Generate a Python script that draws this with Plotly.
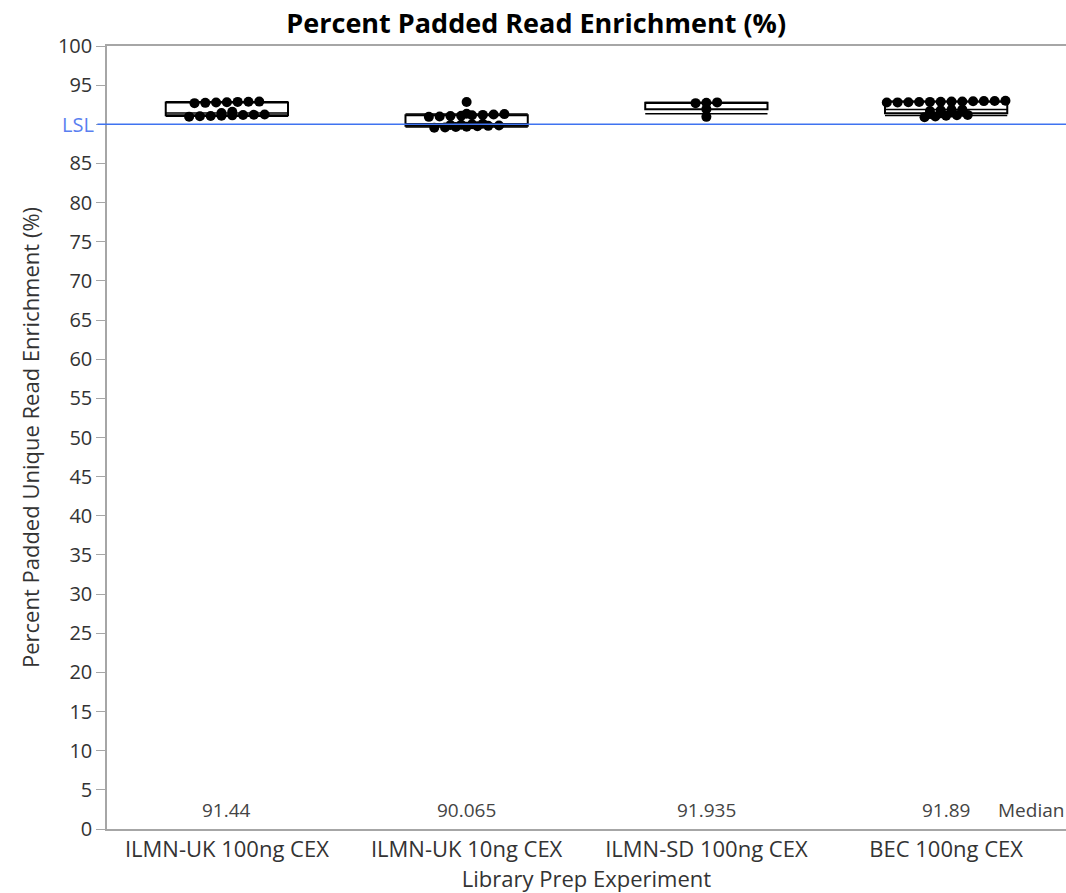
import numpy as np
import plotly.graph_objects as go

categories = ["ILMN-UK 100ng CEX", "ILMN-UK 10ng CEX", "ILMN-SD 100ng CEX", "BEC 100ng CEX"]

g1 = [90.98, 91.02, 91.06, 91.10, 91.14, 91.18, 91.22, 91.26, 91.44, 91.60,
      92.70, 92.74, 92.78, 92.82, 92.86, 92.88, 92.90]
g2 = [89.55, 89.60, 89.65, 89.70, 89.75, 89.80, 89.85, 89.90, 89.95, 90.00, 90.065,
      90.95, 91.00, 91.05, 91.10, 91.15, 91.20, 91.25, 91.30, 91.35, 92.85]
g3 = [90.95, 91.935, 92.70, 92.75, 92.80]
g4 = [90.90, 91.00, 91.10, 91.15, 91.20, 91.30, 91.40, 91.50, 91.60, 91.70, 91.80, 91.85,
      91.89,
      92.78, 92.80, 92.82, 92.84, 92.86, 92.88, 92.90, 92.92, 92.94, 92.96, 92.98, 93.00]
groups = [g1, g2, g3, g4]
median_labels = ["91.44", "90.065", "91.935", "91.89"]
LSL = 90.0

y_ticks = list(range(0, 101, 5))
y_ticktext = ["" if v == 90 else str(v) for v in y_ticks]

FONT = "Open Sans"


def pack(vals, center, tol=0.35, step=0.045):
    vals = np.asarray(vals)
    order = np.argsort(vals, kind="stable")
    rows = []
    for idx in order:
        if rows and vals[idx] - vals[rows[-1][0]] < tol:
            rows[-1].append(idx)
        else:
            rows.append([idx])
    xs = np.empty(len(vals))
    for r in rows:
        m = len(r)
        for k, idx in enumerate(r):
            xs[idx] = center + (k - (m - 1) / 2) * step
    return xs


fig = go.Figure()

half = 0.255
for i, g in enumerate(groups):
    arr = np.array(g)
    q10, q25, q50, q75, q90 = np.percentile(arr, [10, 25, 50, 75, 90])
    fig.add_shape(type="rect", xref="x", yref="y", x0=i - half, x1=i + half, y0=q25, y1=q75,
                  line=dict(color="black", width=2), fillcolor="rgba(0,0,0,0)", layer="above")
    for q in (q50, q10, q90):
        fig.add_shape(type="line", xref="x", yref="y", x0=i - half, x1=i + half, y0=q, y1=q,
                      line=dict(color="black", width=1.5), layer="above")
    xs = pack(arr, i)
    fig.add_trace(go.Scatter(x=xs, y=arr, mode="markers",
                             marker=dict(color="black", size=10),
                             showlegend=False, hoverinfo="y"))

fig.add_shape(type="line", xref="paper", yref="y", x0=-0.01, x1=1, y0=LSL, y1=LSL,
              line=dict(color="#3f73f0", width=1.5), layer="above")
fig.add_annotation(xref="paper", yref="y", x=0, y=LSL, text="LSL", showarrow=False,
                   xanchor="right", xshift=-11, font=dict(family=FONT, size=20, color="#5a7ff0"))

for i, lab in enumerate(median_labels):
    fig.add_annotation(xref="x", yref="y", x=i, y=2.4, text=lab, showarrow=False,
                       font=dict(family=FONT, size=19, color="#444444"))
fig.add_annotation(xref="paper", yref="y", x=1.0, y=2.4, text="Median", showarrow=False,
                   xanchor="right", xshift=0, font=dict(family=FONT, size=19, color="#444444"))

ytick_font = dict(family=FONT, size=20, color="#333333")
xtick_font = dict(family=FONT, size=22, color="#333333")
title_font = dict(family=FONT, size=22, color="#333333")
fig.update_layout(
    width=1066, height=893,
    margin=dict(l=107, r=0, t=46, b=64),
    paper_bgcolor="white", plot_bgcolor="white",
    title=dict(text="<b>Percent Padded Read Enrichment (%)</b>", xref="container", x=0.503,
               xanchor="center", y=0.974, yanchor="middle",
               font=dict(family=FONT, size=27, color="black")),
    xaxis=dict(range=[-0.5, 3.5], tickmode="array", tickvals=list(range(len(categories))),
               ticktext=categories, showgrid=False, zeroline=False, automargin=False,
               showline=True, linecolor="#a6a6a6", linewidth=1.5, mirror=True,
               ticks="", tickfont=xtick_font,
               title=dict(text="Library Prep Experiment", font=title_font, standoff=0)),
    yaxis=dict(range=[0, 100], tickmode="array", tickvals=y_ticks, ticktext=y_ticktext,
               showgrid=False, zeroline=False, showline=True, linecolor="#a6a6a6", automargin=False,
               linewidth=1.5, mirror=True, ticks="outside", ticklen=9, tickcolor="#a6a6a6",
               tickfont=ytick_font,
               title=dict(text="Percent Padded Unique Read Enrichment (%)", font=title_font, standoff=12)),
)

fig.write_html("out.html")
